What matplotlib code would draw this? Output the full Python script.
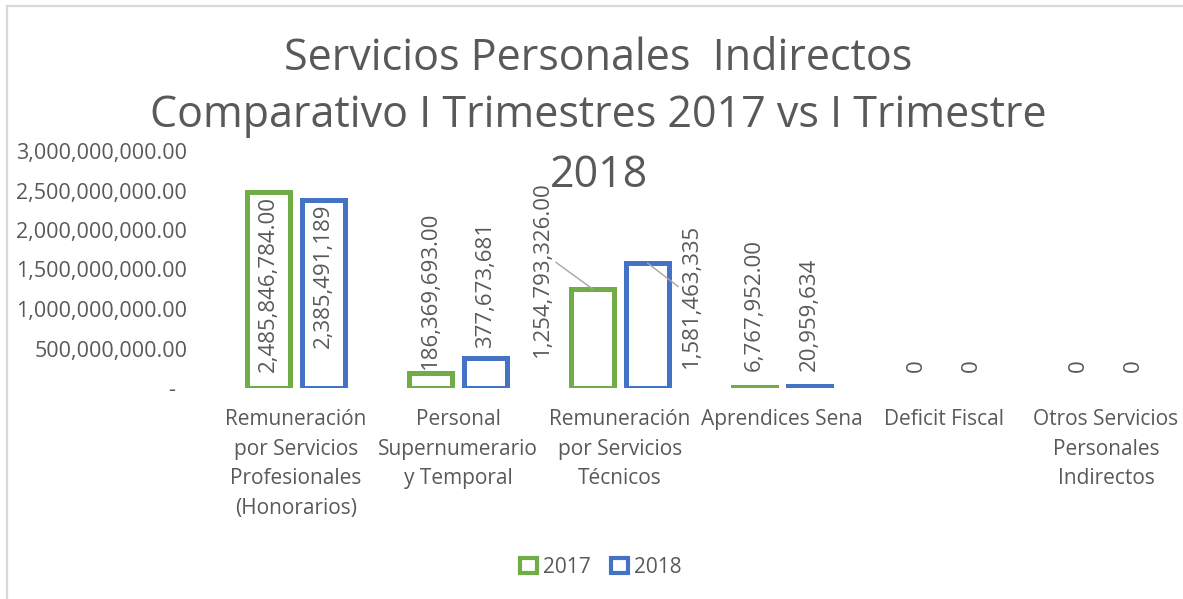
import numpy as np
import matplotlib
matplotlib.use("Agg")
import matplotlib.pyplot as plt
from matplotlib.patches import Rectangle
from matplotlib.lines import Line2D
from matplotlib.ticker import FuncFormatter

# data
categories = ["Remuneración\npor Servicios\nProfesionales\n(Honorarios)",
              "Personal\nSupernumerario\ny Temporal",
              "Remuneración\npor Servicios\nTécnicos",
              "Aprendices Sena",
              "Deficit Fiscal",
              "Otros Servicios\nPersonales\nIndirectos"]
v2017 = [2485846784.00, 186369693.00, 1254793326.00, 6767952.00, 0, 0]
v2018 = [2385491189, 377673681, 1581463335, 20959634, 0, 0]
lab2017 = ["2,485,846,784.00", "186,369,693.00", "1,254,793,326.00", "6,767,952.00", "0", "0"]
lab2018 = ["2,385,491,189", "377,673,681", "1,581,463,335", "20,959,634", "0", "0"]
title_lines = ["Servicios Personales  Indirectos",
               "Comparativo I Trimestres 2017 vs I Trimestre",
               "2018"]

green = "#70AD47"
blue = "#4472C4"
gray = "#595959"
plt.rcParams["font.family"] = ["Open Sans", "DejaVu Sans"]

fig = plt.figure(figsize=(11.83, 5.99), dpi=100)
ax = fig.add_axes([215 / 1183, (599 - 388) / 599, 972 / 1183, 237 / 599])

x = np.arange(len(categories))
w = 0.27
off = 0.17
lw17 = [3.6 if v > 0 else 0 for v in v2017]
lw18 = [3.6 if v > 0 else 0 for v in v2018]
ax.bar(x - off, v2017, w, facecolor="white", edgecolor=green, linewidth=lw17)
ax.bar(x + off, v2018, w, facecolor="white", edgecolor=blue, linewidth=lw18)

ax.set_xlim(-0.5, 5.5)
ax.set_ylim(0, 3e9)
ax.set_yticks(np.arange(0, 3.01e9, 5e8))
ax.yaxis.set_major_formatter(FuncFormatter(lambda v, p: "-  " if v == 0 else f"{v:,.2f}"))
ax.tick_params(axis="y", length=0, pad=20, labelsize=15.5, labelcolor=gray)
ax.set_xticks(x)
ax.set_xticklabels(categories, linespacing=1.55)
ax.tick_params(axis="x", length=0, pad=15, labelsize=15, labelcolor=gray)
for s in ax.spines.values():
    s.set_visible(False)

# data labels (placement per bar, offsets in pixels)
place17 = [("in", -4), ("out", 4), ("left", 0), ("out", 16), ("zero", 16), ("zero", 16)]
place18 = [("in", -4), ("out", 10), ("right", 0), ("out", 15), ("zero", 16), ("zero", 16)]
kw = dict(rotation=90, fontsize=16, color=gray, textcoords="offset pixels", ha="center")
for xs, vals, labs, places in [(x - off, v2017, lab2017, place17), (x + off, v2018, lab2018, place18)]:
    for xi, v, t, (p, dy) in zip(xs, vals, labs, places):
        if p == "in":
            ax.annotate(t, (xi, v), xytext=(0, dy), va="top", **kw)
        elif p in ("out", "zero"):
            ax.annotate(t, (xi, v), xytext=(0, dy), va="bottom", **kw)
        elif p == "left":
            ax.annotate(t, (xi, v), xytext=(-50, -68), va="bottom",
                        arrowprops=dict(arrowstyle="-", color="#a6a6a6", lw=1,
                                        relpos=(1, 0.55), shrinkA=0, shrinkB=0), **kw)
        elif p == "right":
            ax.annotate(t, (xi, v), xytext=(44, -105), va="bottom",
                        arrowprops=dict(arrowstyle="-", color="#a6a6a6", lw=1,
                                        relpos=(0, 0.55), shrinkA=0, shrinkB=0), **kw)

# title, one text per line (baselines in pixels from the top)
for line, base in zip(title_lines, [70, 127, 187]):
    fig.text(0.506, 1 - base / 599, line, ha="center", va="baseline", fontsize=31, color=gray)

handles = [Rectangle((0, 0), 1, 1, facecolor="white", edgecolor=green, lw=3),
           Rectangle((0, 0), 1, 1, facecolor="white", edgecolor=blue, lw=3)]
fig.legend(handles, ["2017", "2018"], loc="center", bbox_to_anchor=(0.508, 0.053), ncol=2,
           frameon=False, fontsize=15, labelcolor=gray, handlelength=0.8, handleheight=0.8,
           handletextpad=0.3, columnspacing=1.0)

# chart area border (top and left visible)
fig.add_artist(Line2D([7 / 1183, 7 / 1183], [0, 1 - 6 / 599], color="#d9d9d9", lw=1.6))
fig.add_artist(Line2D([7 / 1183, 1], [1 - 6 / 599, 1 - 6 / 599], color="#d9d9d9", lw=1.6))

fig.savefig("out.png", dpi=100)
